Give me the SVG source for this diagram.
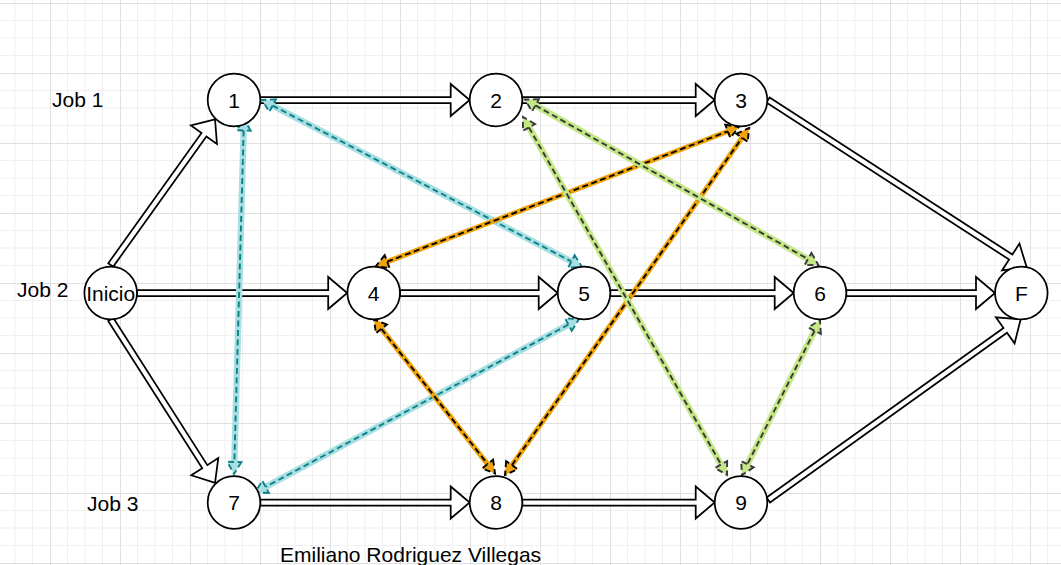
<svg xmlns="http://www.w3.org/2000/svg" width="1061" height="565" viewBox="0 0 1061 565">
<defs>
<pattern id="grid" width="70" height="70" patternUnits="userSpaceOnUse" x="50" y="3">
<rect width="70" height="70" fill="#ffffff"/>
<path d="M17.5 0V70M35 0V70M52.5 0V70M0 17.5H70M0 35H70M0 52.5H70" stroke="#f0f0f0" stroke-width="1" fill="none"/>
<path d="M0.5 0V70M0 0.5H70" stroke="#e0e0e0" stroke-width="1" fill="none"/>
</pattern>
<style>
.node circle{fill:#ffffff;stroke:#000000;stroke-width:1.75}
.node text,.lbl{font-family:"Liberation Sans",Arial,sans-serif;font-size:21px;fill:#000000}
.node text{text-anchor:middle}
.flow{fill:#ffffff;stroke:#000000;stroke-width:1.75;stroke-linejoin:miter}
.band{stroke:none}
.dash{fill:none;stroke-width:1.9;stroke-dasharray:6 3.5}
.teal .band{fill:#a8dfe2}
.teal .dash{stroke:#0e8088}
.orange .band{fill:#f0a30a}
.orange .dash{stroke:#000000}
.green .band{fill:#c6e785}
.green .dash{stroke:#36393d}
</style>
</defs>
<rect width="1061" height="565" fill="url(#grid)"/>

<g id="connectors">
<!-- hollow process arrows -->
<path class="flow" transform="translate(110.7 265) rotate(-54.4)" d="M0 -3H160.2V-16L179.2 0L160.2 16V3H0Z"/>
<path class="flow" transform="translate(137 293)" d="M0 -3H191.2V-16L210.2 0L191.2 16V3H0Z"/>
<path class="flow" transform="translate(110.7 319.3) rotate(57.45)" d="M0 -3H174.9V-16L193.9 0L174.9 16V3H0Z"/>
<path class="flow" transform="translate(260.3 100)" d="M0 -3H190.4V-16L209.4 0L190.4 16V3H0Z"/>
<path class="flow" transform="translate(522.3 100)" d="M0 -3H173.4V-16L192.4 0L173.4 16V3H0Z"/>
<path class="flow" transform="translate(768 100) rotate(32.9)" d="M0 -3H289.1V-16L308.1 0L289.1 16V3H0Z"/>
<path class="flow" transform="translate(400 293)" d="M0 -3H138.7V-16L157.7 0L138.7 16V3H0Z"/>
<path class="flow" transform="translate(610.3 293)" d="M0 -3H164.4V-16L183.4 0L164.4 16V3H0Z"/>
<path class="flow" transform="translate(846.3 293)" d="M0 -3H129.7V-16L148.7 0L129.7 16V3H0Z"/>
<path class="flow" transform="translate(260.3 502.5)" d="M0 -3H190.4V-16L209.4 0L190.4 16V3H0Z"/>
<path class="flow" transform="translate(522.3 502.5)" d="M0 -3H173.4V-16L192.4 0L173.4 16V3H0Z"/>
<path class="flow" transform="translate(768.3 500) rotate(-35.6)" d="M0 -3H291.4V-16L310.4 0L291.4 16V3H0Z"/>

<!-- teal dependencies -->
<g class="teal" transform="translate(262 100) rotate(27.56)">
<path class="band" d="M0 0L12 -7V-3.2H349V-7L361 0L349 7V3.2H12V7Z"/>
<path class="dash" d="M12 0H349M12 -7L0 0L12 7ZM349 -7L361 0L349 7Z"/>
</g>
<g class="teal" transform="translate(244 118.5) rotate(91.61)">
<path class="band" d="M0 0L12 -7V-3.2H343.6V-7L355.6 0L343.6 7V3.2H12V7Z"/>
<path class="dash" d="M12 0H343.6M12 -7L0 0L12 7ZM343.6 -7L355.6 0L343.6 7Z"/>
</g>
<g class="teal" transform="translate(579 319) rotate(151.83)">
<path class="band" d="M0 0L12 -7V-3.2H355.5V-7L367.5 0L355.5 7V3.2H12V7Z"/>
<path class="dash" d="M12 0H355.5M12 -7L0 0L12 7ZM355.5 -7L367.5 0L355.5 7Z"/>
</g>
<!-- orange dependencies -->
<g class="orange" transform="translate(376 266) rotate(-20.95)">
<path class="band" d="M0 0L12 -7V-2.6H376.7V-7L388.7 0L376.7 7V2.6H12V7Z"/>
<path class="dash" d="M12 0H376.7M12 -7L0 0L12 7ZM376.7 -7L388.7 0L376.7 7Z"/>
</g>
<g class="orange" transform="translate(505 475) rotate(-54.89)">
<path class="band" d="M0 0L12 -7V-2.6H412.2V-7L424.2 0L412.2 7V2.6H12V7Z"/>
<path class="dash" d="M12 0H412.2M12 -7L0 0L12 7ZM412.2 -7L424.2 0L412.2 7Z"/>
</g>
<g class="orange" transform="translate(374 319.5) rotate(51.84)">
<path class="band" d="M0 0L12 -7V-2.6H183.85V-7L195.85 0L183.85 7V2.6H12V7Z"/>
<path class="dash" d="M12 0H183.85M12 -7L0 0L12 7ZM183.85 -7L195.85 0L183.85 7Z"/>
</g>
<!-- green dependencies -->
<g class="green" transform="translate(525 99.5) rotate(29.42)">
<path class="band" d="M0 0L12 -7V-3.2H324.9V-7L336.9 0L324.9 7V3.2H12V7Z"/>
<path class="dash" d="M12 0H324.9M12 -7L0 0L12 7ZM324.9 -7L336.9 0L324.9 7Z"/>
</g>
<g class="green" transform="translate(523 117) rotate(60.32)">
<path class="band" d="M0 0L12 -7V-3.2H400V-7L412 0L400 7V3.2H12V7Z"/>
<path class="dash" d="M12 0H400M12 -7L0 0L12 7ZM400 -7L412 0L400 7Z"/>
</g>
<g class="green" transform="translate(820 320) rotate(116.72)">
<path class="band" d="M0 0L12 -7V-3.2H161.5V-7L173.5 0L161.5 7V3.2H12V7Z"/>
<path class="dash" d="M12 0H161.5M12 -7L0 0L12 7ZM161.5 -7L173.5 0L161.5 7Z"/>
</g>
</g>

<g id="node-1" class="node"><circle cx="234" cy="100" r="26.3"/><text x="234" y="107.5">1</text></g>
<g id="node-2" class="node"><circle cx="496" cy="100" r="26.3"/><text x="496" y="107.5">2</text></g>
<g id="node-3" class="node"><circle cx="741" cy="100" r="26.3"/><text x="741" y="107.5">3</text></g>
<g id="node-inicio" class="node"><circle cx="110.7" cy="293" r="26.3"/><text x="110.7" y="300.5">Inicio</text></g>
<g id="node-4" class="node"><circle cx="373.7" cy="293" r="26.3"/><text x="373.7" y="300.5">4</text></g>
<g id="node-5" class="node"><circle cx="584" cy="293" r="26.3"/><text x="584" y="300.5">5</text></g>
<g id="node-6" class="node"><circle cx="820" cy="293" r="26.3"/><text x="820" y="300.5">6</text></g>
<g id="node-F" class="node"><circle cx="1021.3" cy="293" r="26.3"/><text x="1021.3" y="300.5">F</text></g>
<g id="node-7" class="node"><circle cx="234" cy="502.5" r="26.3"/><text x="234" y="510">7</text></g>
<g id="node-8" class="node"><circle cx="496" cy="502.5" r="26.3"/><text x="496" y="510">8</text></g>
<g id="node-9" class="node"><circle cx="741" cy="502.5" r="26.3"/><text x="741" y="510">9</text></g>

<g id="labels">
<text class="lbl" x="52" y="107.3">Job 1</text>
<text class="lbl" x="17" y="297">Job 2</text>
<text class="lbl" x="87" y="510.5">Job 3</text>
<text class="lbl" x="280" y="562">Emiliano Rodriguez Villegas</text>
</g>
</svg>
